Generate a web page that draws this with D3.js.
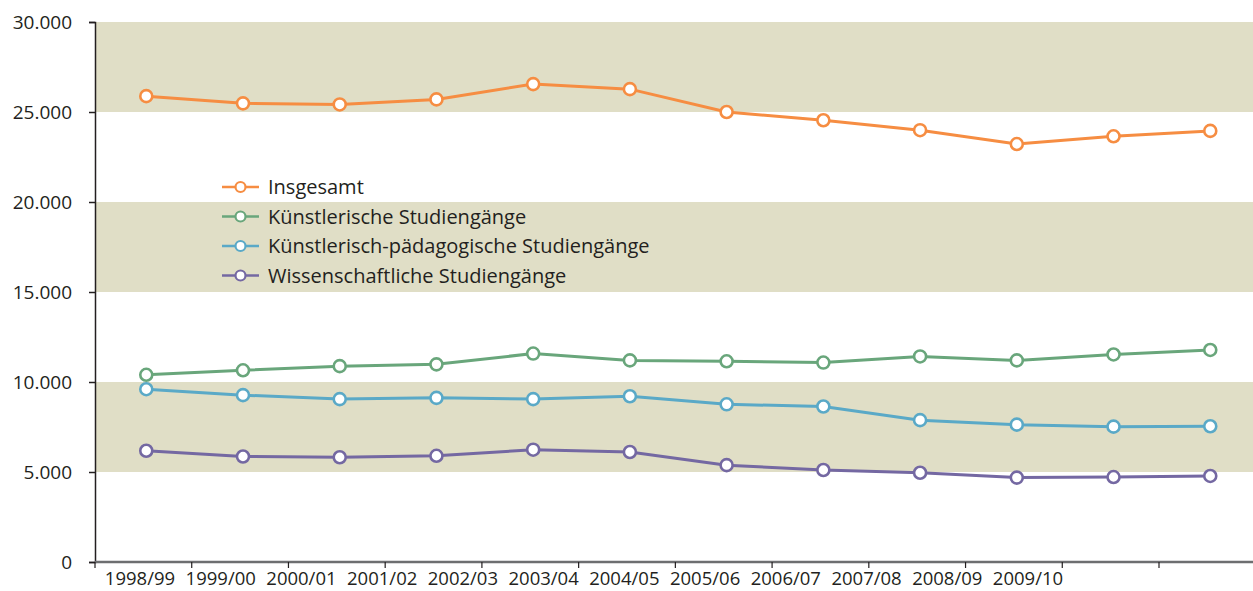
<!DOCTYPE html>
<html>
<head>
<meta charset="utf-8">
<script src="https://cdn.jsdelivr.net/npm/d3@7"></script>
<style>
  body { margin: 0; background: #fff; }
  text { font-family: "Open Sans", "Noto Sans", sans-serif; fill: #231f20; }
</style>
</head>
<body>
<div id="chart"></div>
<script>
// Data
const years = ["1998/99", "1999/00", "2000/01", "2001/02", "2002/03", "2003/04",
  "2004/05", "2005/06", "2006/07", "2007/08", "2008/09", "2009/10"];
const insgesamt = [25880, 25480, 25420, 25700, 26550, 26270, 25000, 24540, 23990, 23220, 23650, 23950];
const kuenstlerisch = [10400, 10650, 10880, 10980, 11580, 11200, 11150, 11080, 11420, 11200, 11530, 11780];
const paedagogisch = [9600, 9270, 9050, 9120, 9050, 9210, 8760, 8640, 7880, 7630, 7520, 7540];
const wissenschaftlich = [6180, 5860, 5820, 5900, 6240, 6110, 5380, 5110, 4960, 4690, 4720, 4780];
const yTicks = [0, 5000, 10000, 15000, 20000, 25000, 30000];
const bands = [[5000, 10000], [15000, 20000], [25000, 30000]];

const series = [
  {name: "Insgesamt", color: "#f68d42", values: insgesamt},
  {name: "Künstlerische Studiengänge", color: "#69a67b", values: kuenstlerisch},
  {name: "Künstlerisch-pädagogische Studiengänge", color: "#5aa9c7", values: paedagogisch},
  {name: "Wissenschaftliche Studiengänge", color: "#7468a2", values: wissenschaftlich},
];

const width = 1253, height = 591;
const plotLeft = 95, plotTop = 22, plotBottom = 562;

const svg = d3.select("#chart").append("svg")
  .attr("width", width).attr("height", height);

// scales
const x = d3.scaleLinear().domain([0, 11]).range([plotLeft, 1159]);
const y = d3.scaleLinear().domain([0, 30000]).range([plotBottom, plotTop]);
// the labels in the original sit on their own, tighter spacing
const xLabel = d3.scalePoint().domain(years).range([140, 1028]);
const fmt = (d) => d3.format(",")(d).replace(/,/g, ".");

// bands
svg.append("g").selectAll("rect").data(bands).join("rect")
  .attr("x", plotLeft).attr("width", width - plotLeft)
  .attr("y", (d) => y(d[1])).attr("height", (d) => y(d[0]) - y(d[1]))
  .attr("fill", "#e0dec6");

// y axis
const yAxis = svg.append("g").attr("transform", `translate(${plotLeft},0)`)
  .call(d3.axisLeft(y).tickValues(yTicks).tickFormat(fmt).tickSize(6).tickPadding(17));
yAxis.select(".domain").attr("stroke", "#231f20").attr("stroke-width", 1.5);
yAxis.selectAll(".tick line").attr("stroke", "#231f20").attr("stroke-width", 1.5);
yAxis.selectAll(".tick text").style("font-size", "19px").attr("fill", "#231f20");

// x axis line + ticks
const xAxis = svg.append("g").attr("transform", `translate(0,${plotBottom})`);
xAxis.append("line").attr("x1", plotLeft).attr("x2", width)
  .attr("stroke", "#6d6e70").attr("stroke-width", 2.5);
xAxis.selectAll(".xt").data(d3.range(12)).join("line")
  .attr("x1", (d) => x(d)).attr("x2", (d) => x(d))
  .attr("y1", 0).attr("y2", 6)
  .attr("stroke", "#231f20").attr("stroke-width", 1.2);
xAxis.selectAll(".xl").data(years).join("text")
  .attr("x", (d) => xLabel(d)).attr("y", 23)
  .attr("text-anchor", "middle")
  .style("font-size", "18.5px")
  .text((d) => d);

// points sit a little right of the middle of each tick interval
const px = (i) => x(i + 0.53);

const line = d3.line().x((d, i) => px(i)).y((d) => y(d));

series.forEach((s) => {
  svg.append("path").datum(s.values)
    .attr("fill", "none").attr("stroke", s.color)
    .attr("stroke-width", 3).attr("d", line);
  svg.append("g").selectAll("circle").data(s.values).join("circle")
    .attr("cx", (d, i) => px(i)).attr("cy", (d) => y(d))
    .attr("r", 6).attr("fill", "#fff")
    .attr("stroke", s.color).attr("stroke-width", 2.6);
});

// legend
const legend = svg.append("g").attr("transform", "translate(222,187)");
const items = legend.selectAll("g").data(series).join("g")
  .attr("transform", (d, i) => `translate(0,${i * 29.5})`);
items.append("line").attr("x1", 0).attr("x2", 37)
  .attr("stroke", (d) => d.color).attr("stroke-width", 2.6);
items.append("circle").attr("cx", 18.5).attr("r", 5)
  .attr("fill", "#fff").attr("stroke", (d) => d.color).attr("stroke-width", 2.2);
items.append("text").attr("x", 46).attr("dy", "0.35em")
  .style("font-size", "20px")
  .text((d) => d.name);
</script>
</body>
</html>
